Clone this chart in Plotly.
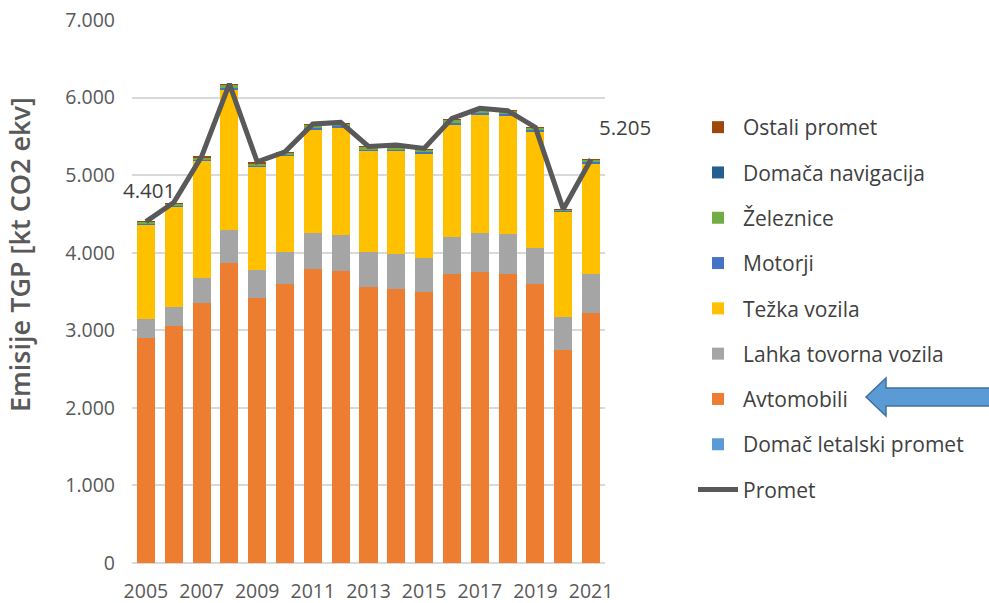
import plotly.graph_objects as go

years = list(range(2005, 2022))
letalski = [4, 4, 4, 4, 3, 3, 3, 3, 2, 2, 2, 2, 3, 3, 3, 1, 1]
avtomobili = [2900, 3050, 3342, 3860, 3408, 3590, 3791, 3757, 3555, 3534, 3495, 3719, 3753, 3718, 3589, 2751, 3225]
lahka = [237, 246, 332, 430, 366, 417, 465, 465, 452, 443, 440, 487, 495, 517, 474, 418, 495]
tezka = [1218, 1292, 1507, 1809, 1330, 1240, 1335, 1391, 1305, 1335, 1347, 1451, 1537, 1537, 1494, 1356, 1434]
motorji = [14, 14, 16, 17, 16, 16, 16, 16, 16, 16, 16, 17, 17, 17, 17, 15, 16]
zeleznice = [28, 29, 30, 43, 32, 28, 37, 36, 35, 30, 29, 38, 40, 40, 39, 19, 32]
navigacija = [1, 1, 1, 1, 1, 1, 1, 1, 1, 1, 1, 1, 1, 1, 1, 1, 1]
ostali = [2, 2, 2, 2, 2, 2, 2, 2, 2, 2, 2, 2, 2, 2, 2, 1, 1]
promet = [4401, 4647, 5240, 6176, 5172, 5300, 5659, 5680, 5370, 5388, 5345, 5733, 5861, 5831, 5616, 4561, 5205]

series = [
    ("Domač letalski promet", letalski, "#5B9BD5"),
    ("Avtomobili", avtomobili, "#ED7D31"),
    ("Lahka tovorna vozila", lahka, "#A5A5A5"),
    ("Težka vozila", tezka, "#FFC000"),
    ("Motorji", motorji, "#4472C4"),
    ("Železnice", zeleznice, "#70AD47"),
    ("Domača navigacija", navigacija, "#255E91"),
    ("Ostali promet", ostali, "#9E480E"),
]

fig = go.Figure()
n = len(series)
for i, (name, vals, col) in enumerate(series):
    fig.add_trace(go.Bar(x=years, y=vals, name=name, marker=dict(color=col, line=dict(width=0)),
                         legendgroup=f"g{i}", legendrank=n - i))
fig.add_trace(go.Scatter(x=years, y=promet, name="Promet", mode="lines",
                         line=dict(color="#595959", width=5), legendgroup="p", legendrank=100))

# canvas geometry helpers (pixels -> paper)
L, R, T, B = 132, 605, 20, 563
def px(x):
    return (x - L) / (R - L)
def py(y):
    return (B - y) / (B - T)

arrow = [(866, 397), (886, 378), (886, 388), (990, 388), (990, 406), (886, 406), (886, 416)]
path = "M " + " L ".join(f"{px(a)},{py(b)}" for a, b in arrow) + " Z"
fig.add_shape(type="path", path=path, xref="paper", yref="paper",
              fillcolor="#5B9BD5", line=dict(color="#41719C", width=1.5))

font_family = "'Open Sans', sans-serif"
fig.add_annotation(x=years[0], y=promet[0], text=f"{promet[0]/1000:.3f}", showarrow=False,
                   xshift=3, yshift=32, font=dict(size=20.5, color="#404040", family=font_family))
fig.add_annotation(x=years[-1], y=promet[-1], text=f"{promet[-1]/1000:.3f}", showarrow=False,
                   xshift=34, yshift=32, font=dict(size=20.5, color="#404040", family=font_family))
fig.add_annotation(x=px(19), y=py(255), xref="paper", yref="paper", text="Emisije TGP [kt CO2 ekv]",
                   textangle=-90, showarrow=False, xanchor="center", yanchor="middle",
                   font=dict(size=27, color="#595959", family=font_family, weight=600))

fig.update_layout(
    width=989, height=603,
    margin=dict(l=L, r=989 - R, t=T, b=603 - B, autoexpand=False),
    barmode="stack", bargap=0.35,
    plot_bgcolor="white", paper_bgcolor="white",
    separators=",.",
    font=dict(family=font_family, color="#595959", size=19.5),
    legend=dict(traceorder="grouped", tracegroupgap=15, x=px(693), y=py(107),
                xanchor="left", yanchor="top", font=dict(size=21, color="#404040"),
                itemwidth=40, bgcolor="rgba(0,0,0,0)"),
    showlegend=True,
)
fig.update_xaxes(tickmode="linear", tick0=2005, dtick=2, range=[2004.5, 2021.5], automargin=False,
                 showgrid=False, showline=False, ticks="", ticklabelstandoff=14,
                 tickfont=dict(size=19.5, color="#595959"))
fig.update_yaxes(range=[0, 7000], dtick=1000, tickformat=",d", showgrid=True, gridcolor="#D9D9D9",
                 gridwidth=1.5, zeroline=True, zerolinecolor="#D9D9D9", zerolinewidth=1.5, automargin=False,
                 ticks="", ticklabelstandoff=16, tickfont=dict(size=19.5, color="#595959"))

fig.write_html("out.html", config={"displayModeBar": False})
with open("out.html", encoding="utf-8") as f:
    html = f.read()
html = html.replace("<head>", "<head><style>html,body{margin:0;padding:0;}</style>", 1)
with open("out.html", "w", encoding="utf-8") as f:
    f.write(html)
